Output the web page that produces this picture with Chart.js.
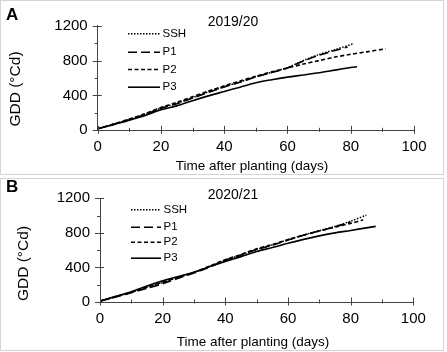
<!DOCTYPE html>
<html>
<head>
<meta charset="utf-8">
<script src="https://cdn.jsdelivr.net/npm/chart.js@4.4.1/dist/chart.umd.min.js"></script>
<style>
  html, body { margin: 0; padding: 0; background: #fff; }
  body { width: 447px; height: 352px; position: relative; overflow: hidden; }
  .box { position: absolute; border: 1px solid #d4d4d4; box-sizing: border-box; }
  canvas { position: absolute; left: 0; }
</style>
</head>
<body>
<div class="box" style="left:0;top:0;width:444px;height:175px;"></div>
<div class="box" style="left:0;top:178px;width:444px;height:173px;"></div>
<canvas id="cA" width="447" height="176" style="top:0"></canvas>
<canvas id="cB" width="447" height="176" style="top:176px"></canvas>
<script>
// ---------- DATA ----------
const seriesNames = ['SSH', 'P1', 'P2', 'P3'];
const xTickLabels = [0, 20, 40, 60, 80, 100];
const yTickLabels = [0, 400, 800, 1200];

// Panel A : 2019/20
const daysA_SSH = [0, 5, 10, 15, 20, 25, 30, 35, 40, 45, 50, 55, 60, 65, 70, 75, 81];
const gddA_SSH  = [18, 70, 125, 185, 255, 310, 375, 440, 500, 555, 615, 665, 720, 800, 870, 925, 995];
const daysA_P1  = [0, 5, 10, 15, 20, 25, 30, 35, 40, 45, 50, 55, 60, 65, 70, 75, 79];
const gddA_P1   = [18, 68, 122, 182, 252, 305, 370, 435, 497, 552, 612, 662, 715, 795, 862, 915, 955];
const daysA_P2  = [0, 5, 10, 15, 20, 25, 30, 35, 40, 45, 50, 55, 60, 65, 70, 75, 80, 85, 91];
const gddA_P2   = [18, 72, 130, 190, 262, 320, 385, 450, 510, 565, 620, 670, 715, 760, 800, 840, 872, 900, 935];
const daysA_P3  = [0, 5, 10, 15, 20, 25, 30, 35, 40, 45, 50, 55, 60, 65, 70, 75, 80, 82];
const gddA_P3   = [18, 65, 115, 170, 235, 280, 340, 395, 445, 495, 545, 580, 610, 635, 660, 690, 720, 730];

// Panel B : 2020/21
const daysB_SSH = [0, 5, 10, 15, 20, 25, 30, 35, 40, 45, 50, 55, 60, 65, 70, 75, 80, 85];
const gddB_SSH  = [10, 60, 112, 170, 225, 285, 340, 410, 485, 545, 610, 660, 720, 775, 825, 875, 935, 1005];
const daysB_P1  = [0, 5, 10, 15, 20, 25, 30, 35, 40, 45, 50, 55, 60, 65, 70, 75, 80];
const gddB_P1   = [10, 58, 108, 160, 210, 275, 335, 405, 482, 542, 607, 657, 717, 772, 822, 870, 925];
const daysB_P2  = [0, 5, 10, 15, 20, 25, 30, 35, 40, 45, 50, 55, 60, 65, 70, 75, 80, 84];
const gddB_P2   = [10, 62, 115, 172, 230, 290, 345, 415, 490, 550, 615, 665, 722, 775, 822, 866, 910, 950];
const daysB_P3  = [0, 5, 10, 15, 20, 25, 30, 35, 40, 45, 50, 55, 60, 65, 70, 75, 80, 85, 88];
const gddB_P3   = [10, 65, 118, 185, 245, 295, 345, 410, 470, 525, 585, 630, 680, 725, 765, 800, 828, 858, 875];

// ---------- STYLE ----------
const FONT = '"Liberation Sans", Arial, Helvetica, sans-serif';
const styles = {
  SSH: { borderDash: [1.5, 1.5], borderWidth: 1.5 },
  P1:  { borderDash: [9, 4],     borderWidth: 1.6 },
  P2:  { borderDash: [4, 2.5],   borderWidth: 1.6 },
  P3:  { borderDash: [],         borderWidth: 1.6 }
};

function pts(xs, ys) { return xs.map((x, i) => ({ x: x, y: ys[i] })); }

function makeDatasets(list) {
  return list.map(([name, xs, ys]) => ({
    label: name,
    data: pts(xs, ys),
    borderColor: '#000',
    backgroundColor: '#000',
    borderWidth: styles[name].borderWidth,
    borderDash: styles[name].borderDash,
    pointRadius: 0,
    tension: 0.3,
    fill: false
  }));
}

function makeChart(canvasId, cfg) {
  const decor = {
    id: 'decor',
    afterDraw(chart) {
      const ctx = chart.ctx;
      const xs = chart.scales.x, ys = chart.scales.y;
      ctx.save();
      // tick marks
      ctx.strokeStyle = '#444';
      ctx.lineWidth = 1;
      xs.ticks.forEach(t => {
        const px = Math.round(xs.getPixelForValue(t.value)) + 0.5;
        const major = xTickLabels.includes(t.value);
        const y0 = ys.bottom;
        ctx.beginPath();
        ctx.moveTo(px, y0 + (major ? 3.5 : 1.5));
        ctx.lineTo(px, y0 - (major ? 4.5 : 2.5));
        ctx.stroke();
      });
      ys.ticks.forEach(t => {
        const py = Math.round(ys.getPixelForValue(t.value)) + 0.5;
        const major = yTickLabels.includes(t.value);
        const x0 = xs.left;
        ctx.beginPath();
        ctx.moveTo(x0 - (major ? 5 : 3), py);
        ctx.lineTo(x0 + (major ? 4 : 0), py);
        ctx.stroke();
      });
      ctx.fillStyle = '#000';
      // panel letter
      ctx.font = 'bold 17px ' + FONT;
      ctx.textBaseline = 'alphabetic';
      ctx.textAlign = 'left';
      ctx.fillText(cfg.letter, cfg.letterX, cfg.letterY);
      // title
      ctx.font = '14px ' + FONT;
      ctx.textAlign = 'center';
      ctx.fillText(cfg.title, cfg.titleX, cfg.titleY);
      // x axis title
      ctx.font = '13.5px ' + FONT;
      ctx.fillText('Time after planting (days)', cfg.xTitleX, cfg.xTitleY);
      // y axis title
      ctx.save();
      ctx.font = '15.5px ' + FONT;
      ctx.translate(cfg.yTitleX, cfg.yTitleY);
      ctx.rotate(-Math.PI / 2);
      ctx.textAlign = 'center';
      ctx.textBaseline = 'middle';
      ctx.fillText('GDD (°Cd)', 0, 0);
      ctx.restore();
      // legend
      ctx.font = '11.5px ' + FONT;
      ctx.textAlign = 'left';
      ctx.textBaseline = 'middle';
      chart.data.datasets.forEach((ds, i) => {
        const y = cfg.legY[i];
        ctx.beginPath();
        ctx.setLineDash(ds.borderDash);
        ctx.lineWidth = ds.borderWidth;
        ctx.strokeStyle = '#000';
        ctx.moveTo(cfg.legX0, y + 0.5);
        ctx.lineTo(cfg.legX1, y + 0.5);
        ctx.stroke();
        ctx.setLineDash([]);
        ctx.fillText(ds.label, cfg.legX1 + 2.5, y + 0.5);
      });
      ctx.restore();
    }
  };

  return new Chart(document.getElementById(canvasId), {
    type: 'line',
    data: { datasets: makeDatasets(cfg.series) },
    options: {
      responsive: false,
      animation: false,
      layout: { padding: { left: 0, right: 447 - cfg.right, top: cfg.top, bottom: 0 } },
      plugins: { legend: { display: false }, tooltip: { enabled: false }, title: { display: false } },
      scales: {
        x: {
          type: 'linear', min: 0, max: 100,
          grid: { display: false, drawTicks: false },
          border: { display: true, color: '#444', width: 1 },
          ticks: {
            stepSize: 10, autoSkip: false, maxRotation: 0, padding: 8,
            color: '#000', font: { family: FONT, size: 15 },
            callback: v => xTickLabels.includes(v) ? String(v) : ''
          },
          afterFit: s => { s.height = 176 - cfg.bottom; }
        },
        y: {
          type: 'linear', min: 0, max: 1200,
          grid: { display: false, drawTicks: false },
          border: { display: true, color: '#444', width: 1 },
          ticks: {
            stepSize: 200, autoSkip: false, padding: 10,
            color: '#000', font: { family: FONT, size: 15 },
            callback: v => yTickLabels.includes(v) ? String(v) : ''
          },
          afterFit: s => { s.width = cfg.left; }
        }
      }
    },
    plugins: [decor]
  });
}

makeChart('cA', {
  series: [['SSH', daysA_SSH, gddA_SSH], ['P1', daysA_P1, gddA_P1], ['P2', daysA_P2, gddA_P2], ['P3', daysA_P3, gddA_P3]],
  left: 97.7, right: 414, top: 25.7, bottom: 130.3,
  letter: 'A', letterX: 6, letterY: 20,
  title: '2019/20', titleX: 233, titleY: 26,
  xTitleX: 252, xTitleY: 170,
  yTitleX: 16, yTitleY: 89,
  legX0: 128, legX1: 160, legY: [33.3, 51.7, 69, 86.7]
});

makeChart('cB', {
  series: [['SSH', daysB_SSH, gddB_SSH], ['P1', daysB_P1, gddB_P1], ['P2', daysB_P2, gddB_P2], ['P3', daysB_P3, gddB_P3]],
  left: 100, right: 413.3, top: 22.3, bottom: 126,
  letter: 'B', letterX: 6, letterY: 15.7,
  title: '2020/21', titleX: 233, titleY: 23,
  xTitleX: 253, xTitleY: 170,
  yTitleX: 24, yTitleY: 87.5,
  legX0: 131, legX1: 161, legY: [33.3, 50.7, 65.7, 81.7]
});
</script>
</body>
</html>
